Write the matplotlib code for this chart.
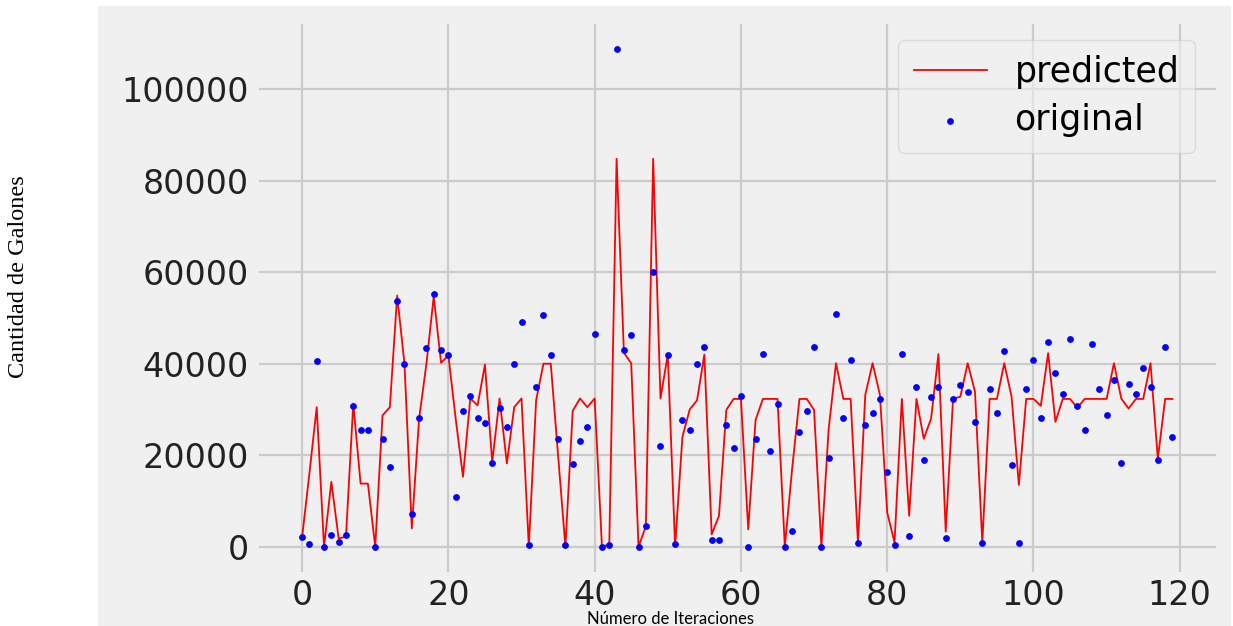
import matplotlib
matplotlib.use("Agg")
import matplotlib.pyplot as plt
from matplotlib.patches import Rectangle
import numpy as np

# valores (indice 0..119)
original = [2100, 500, 40500, 0, 2500, 1000, 2500, 30800, 25600, 25600,
            0, 23600, 17400, 53800, 40000, 7100, 28200, 43500, 55300, 43000,
            42000, 10800, 29700, 32900, 28200, 27100, 18400, 30300, 26200, 39900,
            49200, 400, 34800, 50700, 42000, 23600, 400, 18000, 23000, 26200,
            46600, 0, 400, 108700, 43100, 46200, 0, 4500, 60000, 22100,
            42000, 500, 27600, 25600, 40000, 43600, 1400, 1400, 26700, 21500,
            32900, 0, 23600, 42100, 21000, 31300, 0, 3400, 25100, 29700,
            43700, 0, 19400, 50900, 28200, 40700, 900, 26700, 29300, 32300,
            16300, 400, 42100, 2400, 35000, 18900, 32800, 35000, 1800, 32300,
            35400, 33900, 27200, 900, 34400, 29300, 42700, 17900, 900, 34400,
            40700, 28200, 44700, 37900, 33400, 45300, 30800, 25600, 44200, 34400,
            28800, 36500, 18300, 35500, 33300, 39000, 35000, 18900, 43700, 24000]

predicted = [2000, 16000, 30500, 0, 14200, 1800, 2200, 31300, 13800, 13800,
             0, 28700, 30500, 54900, 40000, 4000, 28000, 40000, 54700, 40200,
             41800, 28000, 15300, 32400, 30900, 39800, 18500, 32400, 18200, 30500,
             32400, 0, 32000, 40000, 40000, 20000, 0, 29700, 32400, 30500,
             32400, 0, 500, 84800, 42400, 40100, 0, 4500, 84800, 32400,
             42000, 0, 24000, 30000, 32000, 42000, 2700, 6750, 29900, 32300,
             32300, 3800, 27700, 32300, 32300, 32300, 0, 17000, 32300, 32300,
             29900, 0, 25800, 40100, 32300, 32300, 900, 33200, 40100, 33200,
             7500, 900, 32300, 6750, 32300, 23600, 28000, 42100, 3300, 32300,
             32800, 40100, 33900, 900, 32300, 32300, 40100, 32800, 13500, 32300,
             32300, 30800, 42300, 27300, 32300, 32300, 30400, 32300, 32300, 32300,
             32300, 40100, 32400, 30200, 32300, 32300, 40100, 19200, 32300, 32300]

iteraciones = np.arange(len(original))

fig = plt.figure(figsize=(12.33, 6.26), dpi=100, facecolor='white')
# fondo gris de la figura (detras de los ejes)
fig.patches.append(Rectangle((98/1233, 0), 1132/1233, 620/626,
                             transform=fig.transFigure, color='#f0f0f0', zorder=-10))

ax = fig.add_axes([0.2097, 0.0869, 0.7765, 0.874])
ax.set_facecolor('#f0f0f0')
for s in ax.spines.values():
    s.set_visible(False)
ax.grid(True, color='#cbcbcb', linewidth=1.6)
ax.set_axisbelow(True)

ax.plot(iteraciones, predicted, color='red', linewidth=1.3, label='predicted')
ax.scatter(iteraciones, original, color='blue', s=15, label='original', zorder=3)

ax.tick_params(axis='y', length=0, labelsize=24, pad=7, labelcolor='#222222')
ax.tick_params(axis='x', length=0, labelsize=24, pad=5, labelcolor='#222222')

leg = ax.legend(loc='upper right', bbox_to_anchor=(0.978, 0.972), borderaxespad=0,
                fontsize=25, handlelength=2.1, labelspacing=0.4, borderpad=0.45,
                fancybox=True, framealpha=0.6, facecolor='#f0f0f0', edgecolor='#cccccc')

fig.text(0.0154, 0.5583, 'Cantidad de Galones', rotation=90, ha='center', va='center',
         family='Liberation Serif', fontsize=17.5)
fig.text(0.5434, 0.011, 'Número de Iteraciones', ha='center', va='center',
         family='Lato', fontsize=12)

fig.savefig('out.png', dpi=100, facecolor='white')
